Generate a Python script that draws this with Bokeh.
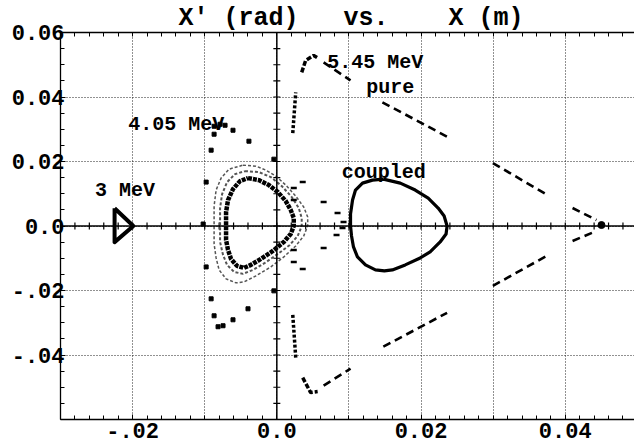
import numpy as np
from bokeh.plotting import figure
from bokeh.models import FixedTicker, LinearAxis, Span, Range1d, Grid
from bokeh.core.properties import value
from bokeh.embed import file_html
from bokeh.resources import INLINE

# ---------------- data (x in m, x' in rad) ----------------
# 3 MeV beam: small closed triangle
mev3_x = [-0.0225, -0.0199, -0.0225, -0.0225]
mev3_y = [0.0055, 0.0, -0.0050, 0.0055]

# 5.45 MeV coupled: closed curve
coupled_x = [0.01477, 0.01712, 0.01919, 0.02099, 0.02237, 0.02320, 0.02361, 0.02347,
             0.02265, 0.02126, 0.01988, 0.01781, 0.01602, 0.01491, 0.01367, 0.01229,
             0.01118, 0.01063, 0.01036, 0.01022, 0.01022, 0.01050, 0.01091, 0.01188,
             0.01326, 0.01477]
coupled_y = [0.01454, 0.01330, 0.01114, 0.00866, 0.00557, 0.00309, 0.00000, -0.00247,
             -0.00495, -0.00804, -0.00990, -0.01206, -0.01361, -0.01392, -0.01361, -0.01206,
             -0.00959, -0.00650, -0.00309, 0.00000, 0.00371, 0.00804, 0.01114, 0.01330,
             0.01423, 0.01454]

# 4.05 MeV: inner dense loop, middle and outer loops
inner_x = [-0.00400, -0.00249, -0.00110, 0.00014, 0.00124, 0.00193, 0.00235, 0.00235,
           0.00193, 0.00097, -0.00055, -0.00221, -0.00359, -0.00456, -0.00552, -0.00635,
           -0.00677, -0.00704, -0.00704, -0.00704, -0.00677, -0.00608, -0.00511, -0.00400]
inner_y = [0.01485, 0.01423, 0.01268, 0.01052, 0.00773, 0.00495, 0.00247, 0.00000,
           -0.00247, -0.00495, -0.00773, -0.01021, -0.01206, -0.01299, -0.01237, -0.01021,
           -0.00742, -0.00433, 0.00000, 0.00433, 0.00804, 0.01144, 0.01392, 0.01485]

middle_x = [-0.00442, -0.00249, -0.00083, 0.00069, 0.00207, 0.00304, 0.00345, 0.00345,
            0.00290, 0.00180, 0.00014, -0.00166, -0.00331, -0.00469, -0.00594, -0.00690,
            -0.00746, -0.00787, -0.00787, -0.00787, -0.00759, -0.00690, -0.00580, -0.00442]
middle_y = [0.01701, 0.01670, 0.01516, 0.01237, 0.00897, 0.00557, 0.00247, 0.00000,
            -0.00309, -0.00588, -0.00866, -0.01144, -0.01361, -0.01485, -0.01423, -0.01206,
            -0.00897, -0.00495, 0.00000, 0.00557, 0.00990, 0.01361, 0.01608, 0.01701]

outer_x = [-0.00469, -0.00290, -0.00152, -0.00014, 0.00124, 0.00262, 0.00373, 0.00428,
           0.00428, 0.00373, 0.00262, 0.00097, -0.00083, -0.00290, -0.00456, -0.00566,
           -0.00704, -0.00801, -0.00842, -0.00870, -0.00870, -0.00870, -0.00842, -0.00773,
           -0.00663, -0.00469]
outer_y = [0.01887, 0.01856, 0.01732, 0.01547, 0.01268, 0.00928, 0.00588, 0.00278,
           0.00000, -0.00309, -0.00619, -0.00959, -0.01268, -0.01547, -0.01732, -0.01763,
           -0.01639, -0.01361, -0.00990, -0.00557, 0.00000, 0.00619, 0.01114, 0.01485,
           0.01763, 0.01887]

# 4.05 MeV scattered halo particles
halo_x = [-0.00870, -0.00787, -0.00718, -0.00608, -0.00387, -0.00870, -0.00911, -0.00980,
          -0.00041, -0.01022, -0.00980, -0.00911, -0.00870, -0.00815, -0.00746, -0.00608,
          -0.00400, -0.00041]
halo_y = [0.03093, 0.03155, 0.03124, 0.02969, 0.02629, 0.02846, 0.02351, 0.01361,
          0.02072, 0.00062, -0.01268, -0.02258, -0.02784, -0.03124, -0.03093, -0.02908,
          -0.02567, -0.02011]

# 5.45 MeV pure: streaks near the axis, peaks, and dashed arms
streak_xs = [[0.00221, 0.00262], [0.00221, 0.00262]]
streak_ys = [[0.02877, 0.04145], [-0.02753, -0.04083]]
peak_xs = [[0.00345, 0.00400, 0.00511, 0.00580], [0.00359, 0.00469, 0.00566]]
peak_ys = [[0.04763, 0.05135, 0.05289, 0.05196], [-0.04702, -0.05165, -0.05135]]
arm_xs = [[0.00649, 0.01022], [0.01464, 0.02375], [0.02996, 0.03756], [0.04101, 0.04432],
          [0.00649, 0.01022], [0.01477, 0.02361], [0.02996, 0.03742], [0.04101, 0.04432]]
arm_ys = [[0.05073, 0.04516], [0.03835, 0.02753], [0.01949, 0.00959], [0.00557, 0.00186],
          [-0.04949, -0.04423], [-0.03743, -0.02691], [-0.01856, -0.00928], [-0.00464, -0.00155]]
tip_x = [0.04502]
tip_y = [0.0003]
pure_extra_x = [0.00235, 0.00359, 0.00649, 0.00842, 0.00925, 0.00911, 0.00828, 0.00649,
                0.00235, 0.00359, 0.00235, 0.00235]
pure_extra_y = [0.01175, 0.01361, 0.00742, 0.00402, 0.00124, -0.00062, -0.00278, -0.00680,
                -0.01114, -0.01330, 0.00804, -0.00742]

# annotations: text, x, y (baseline)
label_text = ["3 MeV", "4.05 MeV", "5.45 MeV", "pure", "coupled"]
label_x = [-0.0252, -0.0206, 0.0070, 0.0124, 0.0090]
label_y = [0.0111, 0.0316, 0.0507, 0.0430, 0.0167]

# axes ticks
x_major = [-0.02, 0.0, 0.02, 0.04]
x_labels = ["-.02", "0.0", "0.02", "0.04"]
x_grid = [-0.02, -0.01, 0.0, 0.01, 0.02, 0.03, 0.04]
x_minor = list(np.round(np.arange(-0.030, 0.0496, 0.002), 4))
y_major = [-0.04, -0.02, 0.0, 0.02, 0.04, 0.06]
y_labels = ["-.04", "-.02", "0.0", "0.02", "0.04", "0.06"]
y_grid = [-0.04, -0.02, 0.0, 0.02, 0.04]
y_minor = list(np.round(np.arange(-0.060, 0.0601, 0.005), 4))

FONT = "Liberation Mono"
NB = "\u00a0"

p = figure(width=634, height=440, x_range=Range1d(-0.03, 0.0496), y_range=Range1d(-0.06, 0.06),
           output_backend="svg", toolbar_location=None,
           x_axis_location=None, y_axis_location=None,
           min_border_left=60, min_border_right=0, min_border_top=32, min_border_bottom=0)
p.outline_line_color = None
p.background_fill_color = "white"
p.border_fill_color = "white"
for g in p.grid:
    g.visible = False

p.title.text = "X' (rad)" + NB * 3 + "vs." + NB * 4 + "X (m)"
p.title.align = "left"
p.title.offset = 118
p.title.text_font = FONT
p.title.text_font_style = "bold"
p.title.text_font_size = "25px"
p.title.text_color = "black"
p.title.standoff = 0

def style_axis(ax):
    ax.axis_line_color = "black"
    ax.axis_line_width = 1.3
    ax.major_tick_line_color = "black"
    ax.minor_tick_line_color = "black"
    ax.major_tick_in = 5
    ax.major_tick_out = 0
    ax.minor_tick_in = 4
    ax.minor_tick_out = 0
    ax.major_label_text_font = FONT
    ax.major_label_text_font_style = "bold"
    ax.major_label_text_color = "black"
    ax.major_label_text_font_size = "22px"

left = LinearAxis(ticker=FixedTicker(ticks=y_major, minor_ticks=y_minor),
                  major_label_overrides={v: s for v, s in zip(y_major, y_labels)})
style_axis(left)
left.major_label_standoff = -4
p.add_layout(left, "left")

below = LinearAxis(ticker=FixedTicker(ticks=x_major, minor_ticks=x_minor),
                   major_label_overrides={v: s for v, s in zip(x_major, x_labels)})
style_axis(below)
below.major_label_standoff = 3
p.add_layout(below, "below")

# top frame edge: ticks only, no labels
above = LinearAxis(ticker=FixedTicker(ticks=[], minor_ticks=x_minor))
style_axis(above)
above.major_label_standoff = 0
p.add_layout(above, "above")

for dim, ticks in ((0, x_grid), (1, y_grid)):
    g = Grid(dimension=dim, ticker=FixedTicker(ticks=ticks),
             grid_line_color="#222222", grid_line_dash="1 2", grid_line_width=1)
    p.add_layout(g)

# central axes through zero
p.add_layout(Span(location=0, dimension="width", line_color="black", line_width=1.5))
p.add_layout(Span(location=0, dimension="height", line_color="black", line_width=1.5))
p.scatter(x=x_minor, y=[0.0] * len(x_minor), marker="dash", angle=np.pi / 2, size=7,
          line_color="black", line_width=1.2)
p.scatter(x=[0.0] * len(y_minor), y=y_minor, marker="dash", size=7,
          line_color="black", line_width=1.2)

# 3 MeV
p.line(mev3_x, mev3_y, line_color="black", line_width=4, line_join="round")

# 4.05 MeV loops
p.line(outer_x, outer_y, line_color="#555555", line_width=1.5, line_dash="3 2")
p.line(middle_x, middle_y, line_color="#555555", line_width=2, line_dash="3 2")
p.line(inner_x, inner_y, line_color="black", line_width=4.5, line_dash="4 1")
p.scatter(halo_x, halo_y, marker="square", size=4, color="black")

# 5.45 MeV coupled
p.line(coupled_x, coupled_y, line_color="black", line_width=3.2, line_join="round")

# 5.45 MeV pure
p.multi_line(streak_xs, streak_ys, line_color="black", line_width=3.5, line_dash="3 2")
p.multi_line(peak_xs, peak_ys, line_color="black", line_width=3.5, line_dash="5 2")
p.multi_line(arm_xs, arm_ys, line_color="black", line_width=2.6, line_dash="8 5")
p.scatter(tip_x, tip_y, marker="circle", size=7, color="black")
p.scatter(pure_extra_x, pure_extra_y, marker="dash", size=6, line_width=2.5, line_color="black")

p.text(x=label_x, y=label_y, text=label_text, text_font=value(FONT), text_font_style="bold",
       text_font_size="20px", text_color="black", text_baseline="alphabetic", text_align="left")

open("out.html", "w").write(file_html(p, INLINE))
